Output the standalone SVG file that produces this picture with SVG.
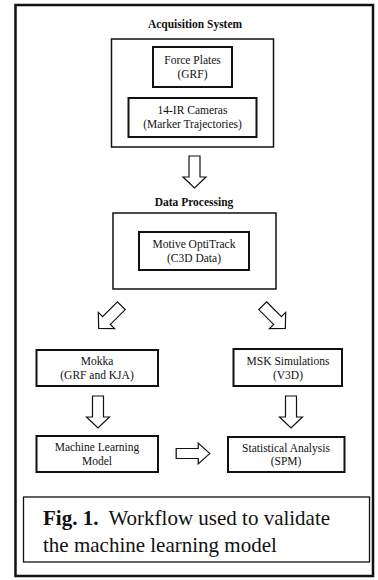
<svg xmlns="http://www.w3.org/2000/svg" width="378" height="580" viewBox="0 0 378 580">
<style>
text{font-family:'Liberation Serif','Times New Roman',Times,'DejaVu Serif',serif;fill:#111}
.t{font-size:11.5px;text-anchor:middle}
.h{font-size:11.5px;font-weight:bold;text-anchor:middle}
.cap{font-size:21px}
.box{fill:#fff;stroke:#111;stroke-width:2}
.grp{fill:#fff;stroke:#111;stroke-width:1.5}
.arr{fill:#fff;stroke:#111;stroke-width:1.2;stroke-linejoin:miter}
</style>
<defs>
<path id="arrow" d="M-16,-5.5 H5 V-11.5 L16,0 L5,11.5 V5.5 H-16 Z"/>
</defs>
<rect x="0" y="0" width="378" height="580" fill="#fff"/>
<rect id="frame" x="15.5" y="5" width="357.5" height="571" fill="#fff" stroke="#111" stroke-width="2.5"/>

<g id="acquisition">
<text class="h" x="195" y="28">Acquisition System</text>
<rect class="grp" x="111.5" y="39" width="162" height="108"/>
</g>
<g id="force-plates">
<rect class="box" x="153" y="47" width="79" height="40"/>
<text class="t" x="192.5" y="64">Force Plates</text>
<text class="t" x="192.5" y="78">(GRF)</text>
</g>
<g id="ir-cameras">
<rect class="box" x="128.5" y="98" width="128" height="39"/>
<text class="t" x="192.5" y="114">14-IR Cameras</text>
<text class="t" x="192.5" y="128">(Marker Trajectories)</text>
</g>

<g id="data-processing">
<text class="h" x="194" y="206">Data Processing</text>
<rect class="grp" x="113" y="213" width="163" height="76"/>
</g>
<g id="motive">
<rect class="box" x="139" y="232" width="110" height="38"/>
<text class="t" x="194" y="248">Motive OptiTrack</text>
<text class="t" x="194" y="262">(C3D Data)</text>
</g>

<g id="mokka">
<rect class="box" x="36.5" y="350" width="121.5" height="36"/>
<text class="t" x="97" y="365">Mokka</text>
<text class="t" x="97" y="379">(GRF and KJA)</text>
</g>
<g id="msk">
<rect class="box" x="233.5" y="349" width="108.5" height="37"/>
<text class="t" x="288" y="365">MSK Simulations</text>
<text class="t" x="288" y="379">(V3D)</text>
</g>
<g id="ml-model">
<rect class="box" x="36.5" y="436" width="121.5" height="36"/>
<text class="t" x="97" y="451">Machine Learning</text>
<text class="t" x="97" y="465">Model</text>
</g>
<g id="stats">
<rect class="box" x="228" y="437" width="116.5" height="35"/>
<text class="t" x="286" y="452">Statistical Analysis</text>
<text class="t" x="286" y="465">(SPM)</text>
</g>

<g id="connectors">
<use href="#arrow" class="arr" transform="translate(194.5,172) rotate(90)"/>
<use href="#arrow" class="arr" transform="translate(110,317) rotate(135)"/>
<use href="#arrow" class="arr" transform="translate(274,317) rotate(45)"/>
<use href="#arrow" class="arr" transform="translate(98,412) rotate(90)"/>
<use href="#arrow" class="arr" transform="translate(291,412) rotate(90)"/>
<use href="#arrow" class="arr" transform="translate(193,453.5) scale(1.05,0.9)"/>
</g>

<g id="caption">
<rect x="23.5" y="497" width="346" height="65" fill="#fff" stroke="#111" stroke-width="1.3"/>
<text class="cap" x="43" y="525"><tspan font-weight="bold">Fig. 1.</tspan><tspan dx="10">Workflow used to validate</tspan></text>
<text class="cap" x="43" y="552">the machine learning model</text>
</g>
</svg>
